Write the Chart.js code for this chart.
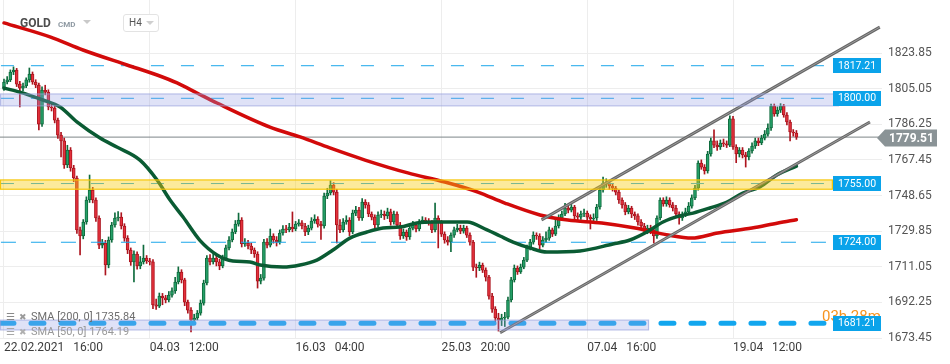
<!DOCTYPE html>
<html><head><meta charset="utf-8">
<script src="https://cdn.jsdelivr.net/npm/chart.js@4.4.0/dist/chart.umd.min.js"></script>
<style>
html,body{margin:0;padding:0;background:#fff;overflow:hidden}
#wrap{position:relative;width:950px;height:364px;font-family:Roboto,"Noto Sans",sans-serif}
canvas{position:absolute;left:0;top:0}
.abs{position:absolute;white-space:pre}
.tri{position:absolute;width:0;height:0;border-left:4px solid transparent;border-right:4px solid transparent;border-top:4px solid #c9c9c9}
</style></head><body>
<div id="wrap">
<canvas id="c" width="950" height="364"></canvas>
<div class="abs" style="left:20px;top:17px;font-size:12px;line-height:12px;font-weight:bold;color:#4d4d4d">GOLD</div>
<div class="abs" style="left:58px;top:20px;font-size:8px;line-height:9px;font-weight:bold;color:#8e99a2">CMD</div>
<div class="tri" style="left:83px;top:20px"></div>
<div class="abs" style="left:123px;top:14px;width:34px;height:16px;border:1px solid #e3e3e3;border-radius:3px;background:#fff"></div>
<div class="abs" style="left:129px;top:18px;font-size:10px;line-height:10px;color:#555">H4</div>
<div class="tri" style="left:146px;top:21px;border-top-color:#cfcfcf"></div>
<div class="abs" style="left:6px;top:311px;font-size:10px;line-height:12px;color:#8a8a8a">☰</div>
<div class="abs" style="left:19px;top:311px;font-size:9px;line-height:12px;color:#9a9a9a">✖</div>
<div class="abs" style="left:31px;top:311px;font-size:11px;line-height:12px;color:#6e6e6e">SMA [200, 0] 1735.84</div>
<div class="abs" style="left:6px;top:326px;font-size:10px;line-height:12px;color:#a8a8a8">☰</div>
<div class="abs" style="left:19px;top:326px;font-size:9px;line-height:12px;color:#b0b0b0">✖</div>
<div class="abs" style="left:31px;top:326px;font-size:11px;line-height:12px;color:#999">SMA [50, 0] 1764.19</div>
</div>
<script>
// ---- data ----
const opens=[1805.4,1808.6,1809.7,1813.9,1814.9,1807.5,1805.4,1806.5,1809.7,1812.8,
1808.6,1807.0,1786.4,1804.4,1803.3,1795.4,1794.9,1788.5,1780.6,1777.5,
1764.8,1772.7,1763.2,1757.9,1730.5,1727.3,1734.7,1746.3,1751.6,1746.3,
1736.8,1722.5,1723.6,1712.0,1725.2,1733.1,1736.8,1737.3,1732.6,1726.2,
1719.9,1713.6,1717.8,1711.5,1713.6,1715.7,1714.1,1713.6,1690.9,1690.3,
1695.6,1694.6,1693.5,1696.1,1698.3,1703.0,1708.3,1704.1,1692.4,1688.2,
1682.9,1684.0,1686.6,1691.9,1702.5,1715.7,1713.6,1715.7,1713.6,1711.5,
1715.7,1721.0,1725.2,1729.4,1733.6,1735.7,1723.1,1723.6,1722.0,1719.9,
1717.8,1703.5,1705.1,1724.1,1722.5,1727.3,1725.2,1724.1,1728.9,1731.0,
1730.5,1732.0,1731.0,1733.6,1734.2,1732.6,1729.4,1731.5,1735.2,1736.3,
1733.6,1732.6,1748.4,1750.0,1754.2,1750.5,1733.1,1730.5,1734.7,1735.7,
1729.4,1739.4,1741.0,1736.8,1745.2,1743.7,1738.9,1737.3,1733.1,1738.4,
1738.9,1737.9,1740.0,1734.7,1738.9,1733.1,1727.3,1729.4,1726.8,1731.5,
1733.1,1731.0,1734.7,1735.7,1735.2,1734.2,1730.5,1736.8,1734.2,1728.3,
1725.2,1724.1,1727.8,1730.5,1731.5,1729.9,1731.5,1727.8,1724.1,1710.9,
1710.4,1712.0,1709.3,1705.6,1695.6,1688.7,1684.0,1682.9,1684.0,1684.5,
1693.5,1704.1,1710.4,1708.3,1710.9,1714.6,1721.0,1724.1,1727.8,1727.3,
1722.5,1725.2,1726.2,1730.5,1728.3,1732.6,1736.8,1738.9,1742.1,1741.0,
1742.6,1737.9,1737.3,1738.9,1739.4,1737.3,1736.3,1736.8,1742.6,1751.6,
1754.7,1755.3,1753.7,1752.6,1750.5,1746.3,1743.7,1740.0,1742.1,1738.9,
1737.9,1734.7,1732.6,1729.9,1731.5,1730.5,1727.3,1736.8,1746.3,1744.2,
1746.3,1743.7,1742.1,1738.9,1736.8,1738.4,1740.0,1743.1,1747.4,1752.6,
1765.8,1763.7,1761.6,1770.6,1777.5,1775.3,1774.3,1776.4,1775.9,1775.3,
1789.1,1774.3,1770.6,1772.7,1770.1,1769.0,1772.2,1774.8,1777.5,1776.4,
1779.0,1781.1,1784.3,1795.9,1791.7,1793.8,1795.9,1791.2,1787.5,1782.2,
1781.7];
const highs=[1810.2,1811.5,1815.0,1816.6,1815.8,1808.9,1808.0,1810.8,1816.0,1813.9,
1809.8,1808.1,1806.0,1806.9,1804.5,1797.0,1796.0,1789.6,1782.0,1779.0,
1775.2,1774.0,1764.6,1759.0,1732.0,1736.0,1748.0,1759.5,1753.0,1747.5,
1738.0,1725.5,1725.0,1726.8,1734.5,1739.5,1740.2,1739.6,1733.8,1727.5,
1721.0,1719.5,1719.0,1716.5,1722.5,1717.0,1715.5,1714.8,1694.0,1697.2,
1697.0,1696.0,1698.0,1700.0,1705.5,1711.0,1709.5,1705.0,1693.5,1689.5,
1686.0,1688.0,1693.5,1704.0,1717.0,1717.5,1718.0,1716.8,1715.0,1717.2,
1722.5,1727.0,1731.0,1735.5,1739.4,1737.0,1726.0,1725.0,1723.5,1721.0,
1719.0,1707.0,1725.5,1726.0,1731.0,1728.5,1727.0,1730.5,1732.8,1733.0,
1734.0,1740.0,1735.0,1736.0,1735.5,1734.0,1733.0,1737.0,1738.5,1737.5,
1735.0,1750.0,1752.5,1756.5,1755.5,1752.0,1736.0,1736.5,1738.0,1737.0,
1741.0,1743.0,1742.5,1747.0,1746.5,1745.0,1740.0,1738.5,1740.0,1741.0,
1740.5,1742.0,1741.5,1740.5,1740.0,1734.5,1731.0,1730.5,1733.0,1735.0,
1734.5,1736.0,1737.5,1737.0,1736.5,1735.5,1744.7,1738.0,1735.5,1729.5,
1727.0,1729.0,1732.0,1733.5,1733.0,1733.0,1732.5,1729.0,1725.0,1712.5,
1713.5,1713.0,1710.5,1706.5,1697.0,1690.0,1686.5,1686.0,1687.0,1695.0,
1705.5,1712.0,1711.5,1712.5,1716.0,1722.5,1725.5,1729.5,1729.0,1728.5,
1727.0,1729.5,1732.0,1731.5,1737.0,1738.5,1740.5,1744.5,1743.5,1744.0,
1743.5,1739.5,1740.5,1741.5,1740.5,1738.5,1739.0,1744.0,1753.0,1758.4,
1757.5,1756.5,1755.0,1753.5,1751.5,1747.5,1745.0,1743.5,1743.0,1740.0,
1739.0,1736.0,1734.0,1733.0,1733.0,1731.5,1738.0,1747.5,1747.5,1748.0,
1747.5,1745.0,1743.5,1740.0,1740.0,1742.0,1745.0,1749.0,1754.0,1767.0,
1767.5,1765.0,1772.0,1779.0,1783.3,1777.5,1778.0,1778.5,1777.5,1790.7,
1790.5,1775.5,1774.0,1774.0,1771.5,1773.5,1776.5,1779.0,1779.0,1780.5,
1783.0,1786.5,1797.0,1797.0,1795.5,1797.2,1796.8,1792.5,1788.5,1783.5,
1783.0];
const lows=[1804.1,1807.6,1808.8,1812.5,1806.2,1795.4,1803.9,1805.6,1808.5,1807.4,
1805.6,1783.3,1785.2,1801.8,1793.9,1793.3,1787.0,1778.8,1769.0,1763.0,
1763.4,1761.5,1756.0,1728.6,1717.3,1725.8,1733.5,1745.0,1744.8,1735.0,
1720.6,1721.0,1706.7,1710.5,1724.0,1732.0,1735.3,1731.0,1724.5,1718.0,
1711.8,1703.0,1709.8,1710.0,1712.5,1712.8,1712.0,1689.0,1688.6,1689.5,
1691.0,1692.0,1692.5,1695.0,1697.0,1702.0,1702.5,1690.5,1686.5,1676.6,
1681.5,1683.0,1685.5,1690.8,1701.5,1712.0,1712.5,1711.5,1709.5,1710.5,
1714.5,1720.0,1724.2,1728.5,1732.5,1721.5,1721.8,1720.5,1718.0,1716.0,
1699.8,1702.0,1704.0,1721.0,1721.5,1723.5,1722.0,1723.0,1727.8,1729.0,
1729.5,1729.5,1730.0,1732.5,1731.0,1727.5,1728.0,1730.5,1734.0,1732.0,
1725.5,1731.5,1747.0,1749.0,1749.0,1723.6,1729.0,1729.5,1733.5,1727.5,
1728.5,1738.0,1735.5,1735.5,1742.0,1737.5,1735.8,1731.5,1732.0,1737.0,
1736.0,1736.5,1733.0,1733.5,1731.8,1725.5,1726.0,1725.0,1725.5,1730.5,
1729.5,1730.0,1733.8,1734.0,1733.0,1729.0,1729.5,1721.0,1727.0,1723.5,
1722.5,1719.0,1726.5,1729.5,1728.5,1728.8,1726.5,1722.5,1709.0,1705.5,
1709.0,1708.0,1703.5,1694.0,1687.0,1680.5,1677.1,1680.0,1679.5,1683.5,
1692.5,1703.0,1707.0,1707.5,1710.0,1713.8,1720.0,1723.0,1725.5,1720.5,
1721.5,1724.0,1725.0,1727.0,1727.5,1731.5,1735.5,1738.0,1739.5,1740.0,
1736.0,1735.5,1736.0,1737.5,1735.5,1731.0,1734.5,1735.5,1741.5,1750.5,
1753.0,1752.0,1751.0,1749.0,1744.5,1742.0,1738.5,1739.0,1737.0,1736.0,
1733.0,1731.0,1728.5,1728.5,1728.5,1723.6,1726.0,1735.8,1743.0,1743.0,
1742.5,1740.5,1737.5,1733.5,1735.5,1737.5,1739.0,1742.0,1746.5,1751.5,
1762.5,1760.0,1760.5,1769.5,1774.0,1772.5,1773.0,1774.5,1774.0,1774.5,
1773.0,1766.0,1769.0,1768.5,1763.7,1767.5,1771.0,1773.5,1775.0,1775.5,
1778.0,1780.0,1783.0,1790.5,1790.5,1792.5,1790.0,1786.0,1777.5,1780.0,
1778.3];
const closes=[1808.6,1809.7,1813.9,1814.9,1807.5,1805.4,1806.5,1809.7,1812.8,1808.6,
1807.0,1786.4,1804.4,1803.3,1795.4,1794.9,1788.5,1780.6,1777.5,1764.8,
1772.7,1763.2,1757.9,1730.5,1727.3,1734.7,1746.3,1751.6,1746.3,1736.8,
1722.5,1723.6,1712.0,1725.2,1733.1,1736.8,1737.3,1732.6,1726.2,1719.9,
1713.6,1717.8,1711.5,1713.6,1715.7,1714.1,1713.6,1690.9,1690.3,1695.6,
1694.6,1693.5,1696.1,1698.3,1703.0,1708.3,1704.1,1692.4,1688.2,1682.9,
1684.0,1686.6,1691.9,1702.5,1715.7,1713.6,1715.7,1713.6,1711.5,1715.7,
1721.0,1725.2,1729.4,1733.6,1735.7,1723.1,1723.6,1722.0,1719.9,1717.8,
1703.5,1705.1,1724.1,1722.5,1727.3,1725.2,1724.1,1728.9,1731.0,1730.5,
1732.0,1731.0,1733.6,1734.2,1732.6,1729.4,1731.5,1735.2,1736.3,1733.6,
1732.6,1748.4,1750.0,1754.2,1750.5,1733.1,1730.5,1734.7,1735.7,1729.4,
1739.4,1741.0,1736.8,1745.2,1743.7,1738.9,1737.3,1733.1,1738.4,1738.9,
1737.9,1740.0,1734.7,1738.9,1733.1,1727.3,1729.4,1726.8,1731.5,1733.1,
1731.0,1734.7,1735.7,1735.2,1734.2,1730.5,1736.8,1734.2,1728.3,1725.2,
1724.1,1727.8,1730.5,1731.5,1729.9,1731.5,1727.8,1724.1,1710.9,1710.4,
1712.0,1709.3,1705.6,1695.6,1688.7,1684.0,1682.9,1684.0,1684.5,1693.5,
1704.1,1710.4,1708.3,1710.9,1714.6,1721.0,1724.1,1727.8,1727.3,1722.5,
1725.2,1726.2,1730.5,1728.3,1732.6,1736.8,1738.9,1742.1,1741.0,1742.6,
1737.9,1737.3,1738.9,1739.4,1737.3,1736.3,1736.8,1742.6,1751.6,1754.7,
1755.3,1753.7,1752.6,1750.5,1746.3,1743.7,1740.0,1742.1,1738.9,1737.9,
1734.7,1732.6,1729.9,1731.5,1730.5,1727.3,1736.8,1746.3,1744.2,1746.3,
1743.7,1742.1,1738.9,1736.8,1738.4,1740.0,1743.1,1747.4,1752.6,1765.8,
1763.7,1761.6,1770.6,1777.5,1775.3,1774.3,1776.4,1775.9,1775.3,1789.1,
1774.3,1770.6,1772.7,1770.1,1769.0,1772.2,1774.8,1777.5,1776.4,1779.0,
1781.1,1784.3,1795.9,1791.7,1793.8,1795.9,1791.2,1787.5,1782.2,1781.7,
1779.51];

const sma200Idx=[0,14.5,24.9,38.8,48.3,54.6,60.9,67.2,83.9,93.4,102.8,113.9,127.4,139.1,149.5,158,169.1,177.9,188.6,199.1,209.5,217,225.2,236,244.2,250];
const sma200Val=[1839.8,1832.4,1825.5,1817.6,1812.3,1808.1,1802.8,1797.5,1784.8,1779.6,1773.8,1767.4,1760.6,1755.8,1750.5,1744.7,1738.4,1735.7,1734.2,1731.5,1727.8,1726.2,1728.9,1731.5,1734.2,1735.84];
const sma50Idx=[0,5,12.3,17.7,23,30.3,35.6,42.9,48.3,52.4,56.5,61.8,67.2,72.2,77.6,80.8,88,93.4,98.7,103.8,109.1,114.5,119.6,124.9,130.3,135.3,146.1,152.4,156.5,160.6,165.9,171.3,181.7,192.1,197.5,202.8,207.9,213.2,217.4,222.7,228.1,233.1,238.5,243.8,250];
const sma50Val=[1805.4,1803.3,1799.1,1795.4,1787.5,1779.0,1774.3,1767.4,1756.9,1746.3,1737.3,1725.0,1717.3,1714.1,1713.6,1712.0,1710.9,1712.0,1714.6,1719.9,1726.2,1729.4,1731.5,1732.0,1734.2,1734.7,1734.7,1730.5,1727.3,1724.1,1721.0,1718.8,1719.4,1723.1,1725.2,1729.4,1734.7,1737.9,1739.4,1742.1,1745.2,1750.0,1753.2,1759.5,1764.19];

const levels=[1817.21,1800.00,1755.00,1724.00,1681.21];
const currentPrice=1779.51;
const zoneHigh=[1802.3,1756.9,1682.9];
const zoneLow=[1796.0,1752.0,1677.7];
const zoneEndIdx=[263.4,261.5,203.5];
const channelLowerIdx=[156.5,273.2], channelLowerVal=[1676.2,1787.5];
const channelUpperIdx=[169.6,276.3], channelUpperVal=[1735.8,1837.6];

const yTickVals=[1673.45,1692.25,1711.05,1729.85,1748.65,1767.45,1786.25,1805.05,1823.85];
const xTickIdx=[0,46,92,138,184,230];
const xTickLabels=["22.02.2021   16:00","04.03   12:00","16.03   04:00","25.03   20:00","07.04   16:00","19.04   12:00"];
const countdown="03h 28m";

// ---- chart ----
const xMin=-1.26, xMax=277.0, yMin=1673.45, yMax=1851.9, levelEnd=262;
const GF='#25a068', GB='#0e6b3d', RF='#e3313c', RB='#ad141e';
Chart.defaults.font.family="Roboto, 'Noto Sans', sans-serif";
const idx=closes.map((_,i)=>i);
const up=closes.map((c,i)=>c>=opens[i]);
const pts=(xs,ys)=>xs.map((v,i)=>({x:v,y:ys[i]}));

const datasets=[
 {type:'line',data:[{x:xMin,y:currentPrice},{x:xMax,y:currentPrice}],borderColor:'#7d8588',borderWidth:1,pointRadius:0,order:20},
 {type:'bar',data:idx.map(i=>({x:i,y:[lows[i],highs[i]]})),backgroundColor:up.map(u=>u?GB:RB),barThickness:1,grouped:false,order:12},
 {type:'bar',data:idx.map(i=>({x:i,y:[opens[i],closes[i]]})),backgroundColor:up.map(u=>u?GF:RF),borderColor:up.map(u=>u?GB:RB),borderWidth:1,borderSkipped:false,barThickness:3,minBarLength:1,grouped:false,order:11},
];
const lvlStyle=[
 {c:'#1ba6ea',w:1,d:[13,17],cap:'butt'},
 {c:'#1ba6ea',w:1,d:[13,17],cap:'butt'},
 {c:'#1ba6ea',w:1,d:[13,17],cap:'butt'},
 {c:'#1ba6ea',w:1,d:[15,15],cap:'butt'},
 {c:'#12a6ee',w:5,d:[13,17],cap:'round'}];
levels.forEach((L,k)=>{
 datasets.push({type:'line',data:[{x:xMin+0.3,y:L},{x:levelEnd,y:L}],borderColor:lvlStyle[k].c,borderWidth:lvlStyle[k].w,borderDash:lvlStyle[k].d,borderCapStyle:lvlStyle[k].cap,pointRadius:0,order:8});
});
datasets.push({type:'line',data:pts(sma200Idx,sma200Val),borderColor:'#d20a0a',borderWidth:3.5,pointRadius:0,cubicInterpolationMode:'monotone',borderCapStyle:'round',order:4});
datasets.push({type:'line',data:pts(sma50Idx,sma50Val),borderColor:'#0a5b33',borderWidth:3.5,pointRadius:0,cubicInterpolationMode:'monotone',borderCapStyle:'round',order:3});
[[channelLowerIdx,channelLowerVal],[channelUpperIdx,channelUpperVal]].forEach(([xs,ys])=>{
 datasets.push({type:'line',data:pts(xs,ys),borderColor:'#666666',borderWidth:3,pointRadius:0,order:2});
 datasets.push({type:'line',data:pts(xs,ys),borderColor:'#9c9c9c',borderWidth:1,pointRadius:0,order:1});
});

const zoneStyle=[
 {fill:'rgba(150,158,228,0.30)',stroke:'rgba(150,160,220,0.6)'},
 {fill:'rgba(248,204,20,0.42)',stroke:'rgba(245,196,0,0.95)'},
 {fill:'rgba(150,158,228,0.30)',stroke:'rgba(150,160,220,0.6)'}];

const overlay={
 id:'overlay',
 afterDatasetsDraw(chart){
  const {ctx,chartArea:a,scales:{x,y}}=chart;
  ctx.save();
  zoneHigh.forEach((h,k)=>{
   const x0=a.left, x1=x.getPixelForValue(zoneEndIdx[k]);
   const y0=y.getPixelForValue(h), y1=y.getPixelForValue(zoneLow[k]);
   ctx.fillStyle=zoneStyle[k].fill; ctx.fillRect(x0,y0,x1-x0,y1-y0);
   ctx.strokeStyle=zoneStyle[k].stroke; ctx.lineWidth=1.2;
   ctx.strokeRect(x0+0.5,y0,x1-x0-1,y1-y0);
  });
  ctx.restore();
 },
 afterDraw(chart){
  const {ctx,chartArea:a,scales:{y}}=chart;
  ctx.save();
  ctx.font="15px Roboto, sans-serif"; ctx.fillStyle='#f7931e'; ctx.textBaseline='middle'; ctx.textAlign='left';
  ctx.fillText(countdown,822,317);
  ctx.font="10.5px Roboto, sans-serif"; ctx.textAlign='center';
  levels.forEach(L=>{
   const yp=y.getPixelForValue(L);
   ctx.fillStyle='#0aa3ea'; ctx.fillRect(833,Math.round(yp-7.5),48,15);
   ctx.fillStyle='#fff'; ctx.fillText(L.toFixed(2),857,yp+0.5);
  });
  const yp=y.getPixelForValue(currentPrice);
  ctx.fillStyle='#8a9396';
  ctx.beginPath(); ctx.moveTo(877,yp+1); ctx.lineTo(885,yp-7.5); ctx.lineTo(937,yp-7.5); ctx.lineTo(937,yp+9.5); ctx.lineTo(885,yp+9.5); ctx.closePath(); ctx.fill();
  ctx.fillStyle='#fff'; ctx.font="bold 12px Roboto, sans-serif"; ctx.textAlign='left';
  ctx.fillText(currentPrice.toFixed(2),889,yp+1.5);
  ctx.restore();
 }
};

new Chart(document.getElementById('c'),{
 type:'bar',
 data:{datasets},
 options:{
  responsive:false, animation:false, devicePixelRatio:1,
  layout:{padding:0},
  plugins:{legend:{display:false},tooltip:{enabled:false}},
  scales:{
   x:{type:'linear',min:xMin,max:xMax,offset:false,
      grid:{color:'#ededed',drawTicks:false,offset:false},border:{display:false},
      afterBuildTicks:s=>{s.ticks=xTickIdx.map(v=>({value:v}));},
      afterFit:s=>{s.height=26;s.paddingLeft=0;s.paddingRight=0;s.paddingTop=0;s.paddingBottom=0;},
      ticks:{align:'start',autoSkip:false,maxRotation:0,minRotation:0,padding:3,color:'#3c3c3c',font:{size:12},
        callback:(v,i)=>xTickLabels[i]}},
   y:{type:'linear',position:'right',min:yMin,max:yMax,
      grid:{color:'#ededed',drawTicks:false},border:{display:false},
      afterBuildTicks:s=>{s.ticks=yTickVals.map(v=>({value:v}));},
      afterFit:s=>{s.width=68;s.paddingTop=0;s.paddingBottom=0;s.paddingLeft=0;s.paddingRight=0;},
      ticks:{padding:6,color:'#555',font:{size:12},callback:v=>v.toFixed(2)}}
  }
 },
 plugins:[overlay]
});
</script>
</body></html>
